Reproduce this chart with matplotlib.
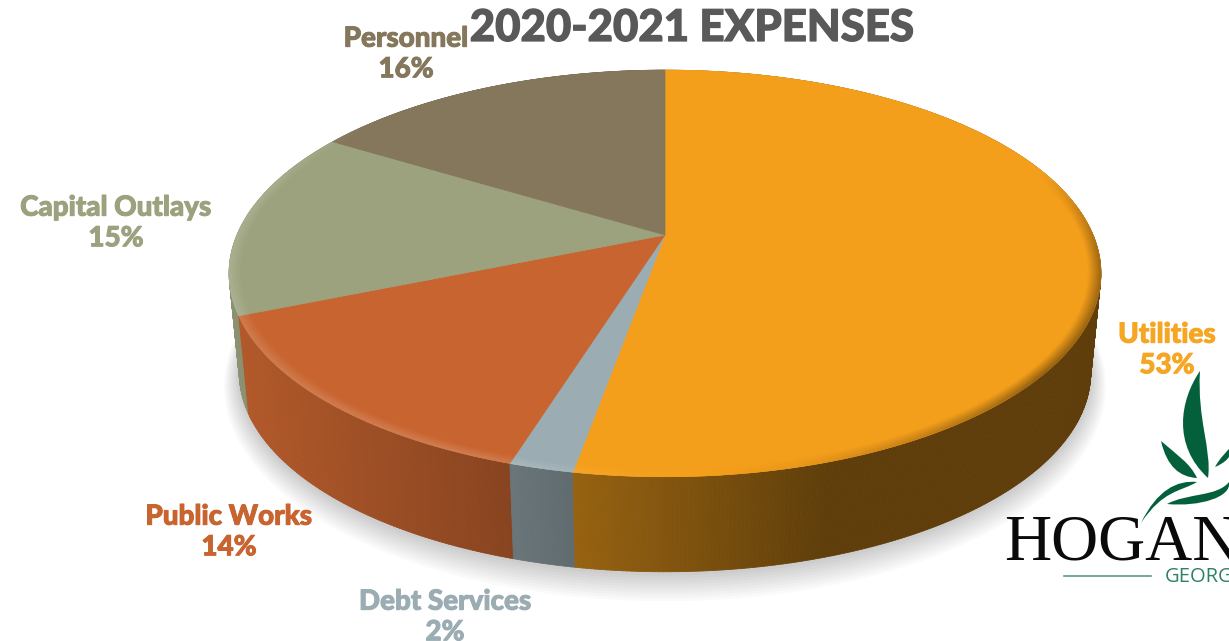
import numpy as np
import matplotlib
matplotlib.use('Agg')
import matplotlib.pyplot as plt
import matplotlib.patheffects as pe
from matplotlib.collections import PolyCollection
from matplotlib.patches import PathPatch, Polygon
from matplotlib.path import Path
from matplotlib.colors import to_rgb

# clockwise from 12 o'clock, labels show these rounded
categories = ['Utilities', 'Debt Services', 'Public Works', 'Capital Outlays', 'Personnel']
shares = [52.8, 2.0, 13.95, 15.0, 16.25]
colors = ['#F49F1B', '#9BADB3', '#C8642F', '#9CA27E', '#85775B']
label_colors = ['#F6A623', '#9BADB3', '#C8642F', '#9CA27E', '#85775B']
label_x = [1167, 445, 229, 116, 406]
label_y = [350, 617, 532, 223, 54]

title = '2020-2021 EXPENSES'

# pie geometry, in picture pixels
CX, TOP_Y, LOW_Y = 665, 235, 335
R_TOP, S_TOP = 428, 196
R_LOW, S_LOW = 418, 192
PERSP = 0.189


def project(theta, r=1.0, low=False, grow=0.0):
    x = r * np.sin(theta)
    y = r * np.cos(theta)
    d = 1 + PERSP * y
    if low:
        return CX + (R_LOW + grow) * x / d, LOW_Y + grow * 0.6 - (S_LOW + grow) * y / d
    return CX + R_TOP * x / d, TOP_Y - S_TOP * y / d


def side_shade(px):
    return np.interp(px, [228, 250, 510, 573, 830, 1100], [.90, .88, .68, .62, .39, .39])


def rim_gain(theta):
    # bevel is bright on the left and front, dark on the right, gone at the back
    deg = np.degrees(theta)
    return np.interp(deg, [70, 95, 130, 165, 185, 200, 285, 310], [0, -.32, -.38, -.05, .04, .16, .14, 0])


def mix(col, f):
    c = np.array(to_rgb(col))
    if f >= 0:
        return c + (1 - c) * f
    return c * (1 + f)


fig = plt.figure(figsize=(12.29, 6.41), dpi=100)
ax = fig.add_axes([0, 0, 1, 1])
ax.set_xlim(0, 1229)
ax.set_ylim(641, 0)
ax.axis('off')

edges = np.cumsum([0] + shares) / sum(shares) * 2 * np.pi

# soft shadow under the pie
full = np.linspace(0, 2 * np.pi, 300)
for g in np.linspace(15, 1, 10):
    sx, sy = project(full, low=True, grow=g)
    ax.add_patch(Polygon(np.c_[sx, sy + 2], closed=True, fc='#000000', ec='none', alpha=0.018, zorder=1))

# side wall, back to front
quads, quad_cols, depth = [], [], []
for i, col in enumerate(colors):
    n = max(int(shares[i] * 8), 12)
    th = np.linspace(edges[i], edges[i + 1], n + 1)
    tx, ty = project(th)
    lx, ly = project(th, low=True)
    for k in range(n):
        quads.append([(tx[k], ty[k]), (tx[k + 1], ty[k + 1]), (lx[k + 1], ly[k + 1]), (lx[k], ly[k])])
        quad_cols.append(np.array(to_rgb(col)) * side_shade((tx[k] + tx[k + 1]) / 2))
        depth.append(ly[k])
order = np.argsort(depth)
ax.add_collection(PolyCollection([quads[j] for j in order], facecolors=[quad_cols[j] for j in order],
                                 edgecolors=[quad_cols[j] for j in order], linewidths=0.6, zorder=2))

# top face
for i, col in enumerate(colors):
    th = np.linspace(edges[i], edges[i + 1], 200)
    px, py = project(th)
    ax.add_patch(Polygon(np.r_[[[CX, TOP_Y]], np.c_[px, py]], closed=True, fc=col, ec=col, lw=0.5, zorder=3))

# bevel along the rim, strips fade in from the inside
strips = np.linspace(.972, .997, 9)
for i, col in enumerate(colors):
    n = max(int(shares[i] * 6), 12)
    th = np.linspace(edges[i], edges[i + 1], n + 1)
    for rr in strips:
        w = (rr - .970) / .027
        ix, iy = project(th, r=rr)
        ox, oy = project(th, r=rr + .0035)
        segs, cols = [], []
        for k in range(n):
            segs.append([(ix[k], iy[k]), (ix[k + 1], iy[k + 1]), (ox[k + 1], oy[k + 1]), (ox[k], oy[k])])
            cols.append(mix(col, rim_gain((th[k] + th[k + 1]) / 2) * w))
        ax.add_collection(PolyCollection(segs, facecolors=cols, edgecolors=cols, linewidths=0.3, zorder=4))

# labels
for name, val, c, lx, ly in zip(categories, shares, label_colors, label_x, label_y):
    ax.text(lx, ly, f'{name}\n{val:.0f}%', color=c, fontsize=20, family='Lato', weight='black',
            ha='center', va='center', linespacing=1.22, zorder=6,
            path_effects=[pe.withStroke(linewidth=0.7, foreground=c)])

ax.text(692, 28, title, color='#595959', fontsize=31.5, family='Lato', weight='black',
        ha='center', va='center', zorder=7,
        path_effects=[pe.withStroke(linewidth=0.9, foreground='#595959')])

# logo, bottom right corner
LEAF = '#04603B'
M, C = Path.MOVETO, Path.CURVE4
leaves = [
    [(1200, 371), (1180, 400), (1172, 445), (1208, 478), (1212, 450), (1197, 420), (1200, 371)],
    [(1161, 441), (1177, 455), (1190, 463), (1197, 478), (1180, 477), (1167, 467), (1161, 441)],
    [(1141, 523), (1157, 490), (1177, 480), (1197, 482), (1180, 492), (1163, 490), (1141, 523)],
    [(1167, 504), (1187, 493), (1217, 497), (1229, 482), (1232, 497), (1200, 507), (1167, 504)],
    [(1215, 467), (1220, 458), (1226, 452), (1232, 446), (1232, 458), (1224, 463), (1215, 467)],
]
for pts in leaves:
    codes = [M] + [C] * 6
    ax.add_patch(PathPatch(Path(pts, codes), fc=LEAF, ec='none', zorder=5))

ax.text(1004, 559, 'HOGANS', color='#0a0a0a', fontsize=47, family='Liberation Serif',
        ha='left', va='baseline', zorder=5)
ax.plot([1064, 1151], [576, 576], color='#5A9A82', lw=1.2, zorder=5)
ax.text(1165, 582, 'GEORGIA', color='#2E8068', fontsize=14.5, family='Open Sans',
        ha='left', va='baseline', zorder=5)

fig.savefig('out.png', dpi=100, facecolor='white')
